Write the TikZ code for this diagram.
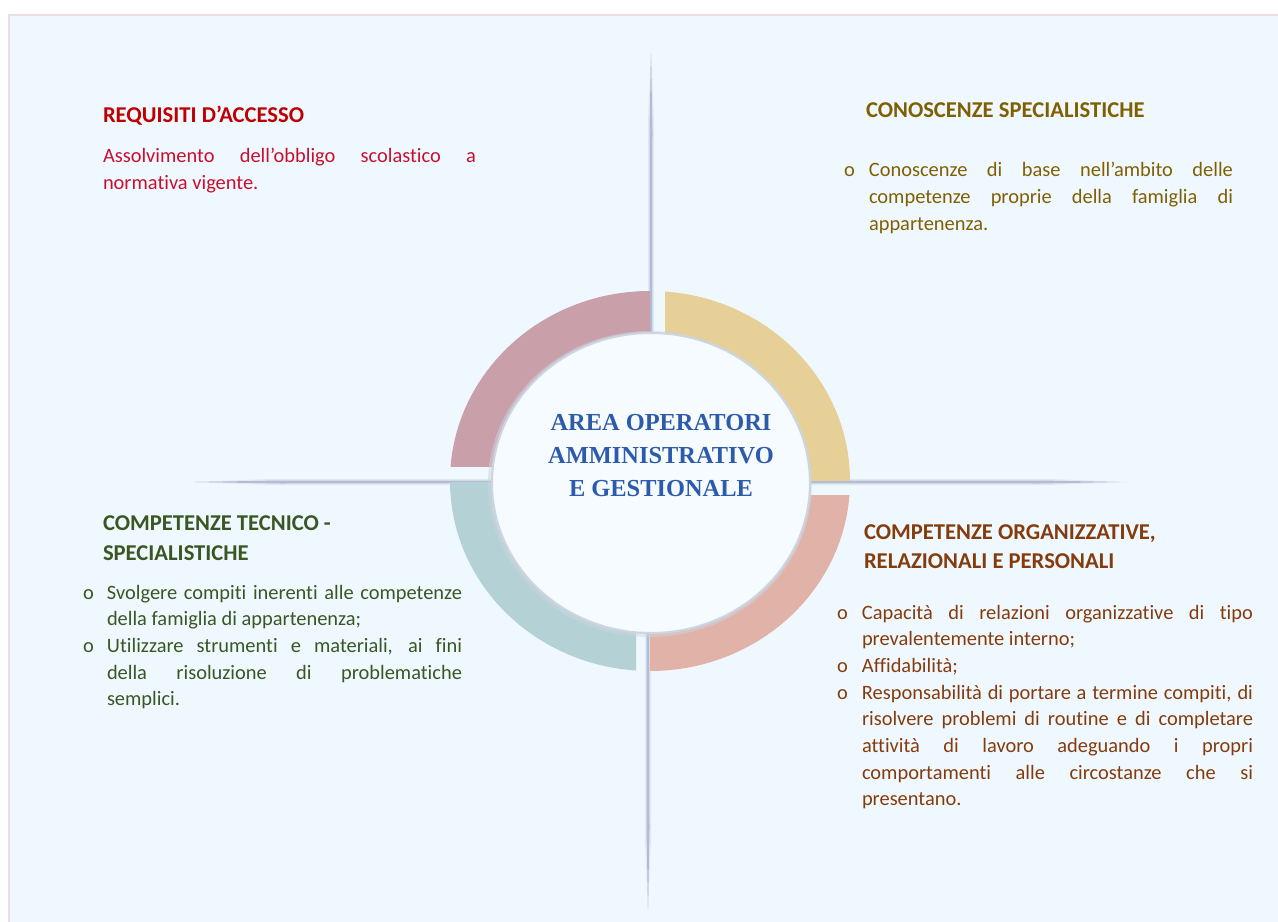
\documentclass[tikz,border=0pt]{standalone}
\usepackage{fontspec}
\setmainfont{Carlito}[Ligatures={NoCommon}]
\newfontfamily\centerfont{Liberation Serif}
\definecolor{panel}{HTML}{F0F8FF}
\definecolor{panelborder}{HTML}{EEDDE2}
\definecolor{needlecol}{HTML}{AEB8CE}
\definecolor{segTL}{HTML}{C9A0AA}
\definecolor{segTR}{HTML}{E6D098}
\definecolor{segBR}{HTML}{E1B2A8}
\definecolor{segBL}{HTML}{B4D2D6}
\definecolor{diskfill}{HTML}{F5FBFF}
\definecolor{diskedge}{HTML}{CDD5E0}
\definecolor{redA}{HTML}{C00000}
\definecolor{redB}{HTML}{C8102E}
\definecolor{olive}{HTML}{7F6000}
\definecolor{dgreen}{HTML}{385723}
\definecolor{brown}{HTML}{843C0C}
\definecolor{cblue}{HTML}{2D5BAA}
% justified line of given width
\newcommand\jl[2]{\hbox{\makebox[#1][s]{#2}}}
\newcommand\nl[1]{\hbox{#1}}
\newcommand\bj[3]{\hbox{\makebox[#1][l]{o}\makebox[#2][s]{#3}}}
\newcommand\bn[2]{\hbox{\makebox[#1][l]{o}#2}}
\newcommand\cj[3]{\hbox{\hspace*{#1}\makebox[#2][s]{#3}}}
\newcommand\cn[2]{\hbox{\hspace*{#1}#2}}
\newcommand\bodyfont{\fontsize{20.5}{26.6}\selectfont}
\newcommand\headfont{\fontsize{22.7}{29}\selectfont\bfseries}
\tikzset{
  txt/.style={inner sep=0pt, outer sep=0pt, anchor=base west},
  needle/.style={fill=needlecol, opacity=0.9},
  halo/.style={fill=needlecol, opacity=0.22},
}
\begin{document}
\begin{tikzpicture}[x=1bp,y=-1bp]
\useasboundingbox (0,0) rectangle (1278,922);
\fill[white] (0,0) rectangle (1278,922);
\draw[panelborder, line width=1.2bp, fill=panel] (9,15) rectangle (1284,930);

% needles (shadow lines), tapered toward their free ends; inner ends hidden by the disk
% top
\fill[halo] (651,48) -- (654,120) -- (654,360) -- (648,360) -- (648,120) -- cycle;
\fill[needle] (651,54) -- (652.5,130) -- (652.3,360) -- (649.7,360) -- (649.5,130) -- cycle;
% bottom
\fill[halo] (648,914) -- (651,840) -- (651,610) -- (645,610) -- (645,840) -- cycle;
\fill[needle] (648,908) -- (649.5,830) -- (649.3,610) -- (646.7,610) -- (646.5,830) -- cycle;
% left
\fill[halo] (188,482) -- (270,479) -- (520,479) -- (520,485) -- (270,485) -- cycle;
\fill[needle] (195,482) -- (280,480.5) -- (520,480.7) -- (520,483.3) -- (280,483.5) -- cycle;
% right
\fill[halo] (1128,482) -- (1050,479) -- (780,479) -- (780,485) -- (1050,485) -- cycle;
\fill[needle] (1120,482) -- (1040,480.5) -- (780,480.7) -- (780,483.3) -- (1040,483.5) -- cycle;

% ring segments
\begin{scope}
  \clip (0,0) rectangle (650,466);
  \fill[segTL, even odd rule] (650,481) ellipse [x radius=200, y radius=190]
       (650,481) ellipse [x radius=158, y radius=148];
\end{scope}
\begin{scope}
  \clip (665,0) rectangle (1278,480);
  \fill[segTR, even odd rule] (650,481) ellipse [x radius=200, y radius=190]
       (650,481) ellipse [x radius=158, y radius=148];
\end{scope}
\begin{scope}
  \clip (650,495) rectangle (1278,922);
  \fill[segBR, even odd rule] (650,481) ellipse [x radius=200, y radius=190]
       (650,481) ellipse [x radius=158, y radius=148];
\end{scope}
\begin{scope}
  \clip (0,482) rectangle (636,922);
  \fill[segBL, even odd rule] (650,481) ellipse [x radius=200, y radius=190]
       (650,481) ellipse [x radius=158, y radius=148];
\end{scope}

% central disk
\fill[diskedge, opacity=0.5] (650,484) ellipse [x radius=162, y radius=153];
\draw[diskedge, line width=2bp, fill=diskfill] (651,483) ellipse [x radius=159, y radius=150];

% centre title
\node[inner sep=0pt, anchor=base, text=cblue] (title) at (661,430)
  {\centerfont\bfseries\fontsize{24.5}{33}\selectfont
   \vtop{\baselineskip=33bp
     \hbox to 300bp{\hss AREA OPERATORI\hss}
     \hbox to 300bp{\hss AMMINISTRATIVO\hss}
     \hbox to 300bp{\hss E GESTIONALE\hss}}};

% top-left: requisiti
\node[txt, text=redA] (tlh) at (103,122)
  {\headfont REQUISITI D’ACCESSO};
\node[txt, text=redB] (tlb) at (103,162)
  {\bodyfont\vtop{\baselineskip=27bp
    \jl{373bp}{Assolvimento dell’obbligo scolastico a}
    \nl{normativa vigente.}}};

% top-right: conoscenze
\node[txt, text=olive] (trh) at (866,117)
  {\headfont CONOSCENZE SPECIALISTICHE};
\node[txt, text=olive] (trb) at (844,176)
  {\bodyfont\vtop{\baselineskip=27bp
    \bj{25bp}{364bp}{Conoscenze di base nell’ambito delle}
    \cj{25bp}{364bp}{competenze proprie della famiglia di}
    \cn{25bp}{appartenenza.}}};

% bottom-left: tecnico-specialistiche
\node[txt, text=dgreen] (blh) at (103,530)
  {\headfont\vtop{\baselineskip=30bp
    \nl{COMPETENZE TECNICO -}
    \nl{SPECIALISTICHE}}};
\node[txt, text=dgreen] (blb) at (83,599)
  {\bodyfont\vtop{\baselineskip=26.7bp
    \bj{24bp}{355bp}{Svolgere compiti inerenti alle competenze}
    \cn{24bp}{della famiglia di appartenenza;}
    \bj{24bp}{355bp}{Utilizzare strumenti e materiali, ai fini}
    \cj{24bp}{355bp}{della risoluzione di problematiche}
    \cn{24bp}{semplici.}}};

% bottom-right: organizzative
\node[txt, text=brown] (brh) at (864,539)
  {\headfont\vtop{\baselineskip=29bp
    \nl{COMPETENZE ORGANIZZATIVE,}
    \nl{RELAZIONALI E PERSONALI}}};
\node[txt, text=brown] (brb) at (837,619)
  {\bodyfont\vtop{\baselineskip=26.7bp
    \bj{25bp}{391bp}{Capacità di relazioni organizzative di tipo}
    \cn{25bp}{prevalentemente interno;}
    \bn{25bp}{Affidabilità;}
    \bj{25bp}{391bp}{Responsabilità di portare a termine compiti, di}
    \cj{25bp}{391bp}{risolvere problemi di routine e di completare}
    \cj{25bp}{391bp}{attività di lavoro adeguando i propri}
    \cj{25bp}{391bp}{comportamenti alle circostanze che si}
    \cn{25bp}{presentano.}}};
\end{tikzpicture}
\end{document}
